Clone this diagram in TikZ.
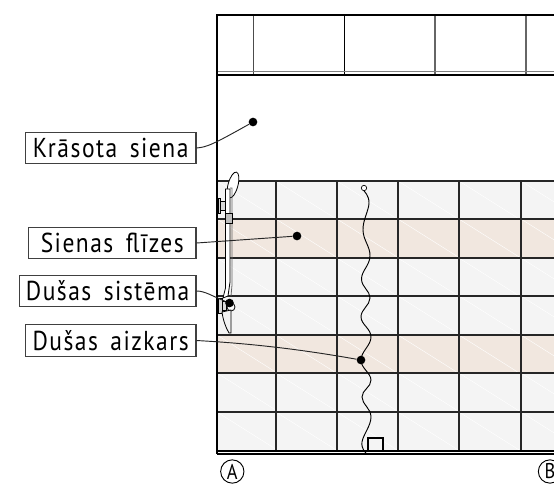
\documentclass[tikz,border=0pt]{standalone}
\usepackage{fontspec}
\setmainfont[LetterSpace=5.5,FakeStretch=0.86,WordSpace=1.6]{PT Sans}
\usetikzlibrary{positioning}
\definecolor{tilegray}{HTML}{F4F4F4}
\definecolor{tilebeige}{HTML}{F1E7DF}
\tikzset{
  notebox/.style={draw=black!75, line width=0.8pt, fill=white, inner sep=0pt, minimum height=23.5pt, font=\fontsize{20.5}{22}\selectfont},
  pin dot/.style={circle, fill=black, inner sep=0pt, minimum size=6.5pt},
  leader/.style={draw=black!85, line width=0.7pt},
  axis mark/.style={circle, draw=black, line width=0.7pt, inner sep=0pt, minimum size=17.5pt, font=\fontsize{16}{16}\selectfont},
  tilegrid/.style={draw=black!85, line width=1.2pt},
  tilehatch/.style={draw=white, line width=0.3pt},
  fixture/.style={draw=black, line width=0.6pt, fill=white},
}
\begin{document}
\begin{tikzpicture}[x=0.75pt, y=-0.75pt]
\useasboundingbox (0,0) rectangle (554,483);
% tiles
\fill[tilegray] (217,181) rectangle (554,451);
\fill[tilebeige] (217,219) rectangle (554,258);
\fill[tilebeige] (217,335) rectangle (554,373);
\begin{scope}
\clip (217,181) rectangle (554,451);
\foreach \col in {217,276,337,398,459,521} {
  \foreach \row in {181,219,258,296,335,373,412} {
    \draw[tilehatch] (\col,\row) -- ++(61,38.5);
  }
}
\end{scope}
\foreach \col in {276,337,398,459,521} \draw[tilegrid] (\col,181) -- (\col,451);
\foreach \row in {181,219,258,296,335,373,412} \draw[tilegrid] (217,\row) -- (554,\row);
% ceiling
\draw[black!70, line width=0.8pt] (253.3,15) -- (253.3,75);
\draw[line width=0.8pt] (344.3,15) -- (344.3,75);
\foreach \col in {435,526} \draw[black!60, line width=1.2pt] (\col,15) -- (\col,75);
\draw[black!50, line width=0.9pt] (217,71.7) -- (554,71.7);
\draw[line width=0.8pt] (217,75) -- (554,75);
% walls and floor
\draw[line width=1pt] (217,451) -- (554,451);
\draw[line width=1.2pt] (217,454) -- (554,454);
\draw[line width=2.1pt] (554,15) -- (217,15) -- (217,454);
% drain
\draw[line width=1.2pt] (368,452) -- (368,438) -- (383,438) -- (383,452);
% curtain
\node[circle, draw=black, fill=white, line width=0.5pt, inner sep=0pt, minimum size=4pt] (ringtop) at (364,188) {};
\draw[line width=0.7pt] plot[smooth, tension=0.7] coordinates {(ringtop.south) (369,203) (363,230) (370,256) (361.5,279) (370,298) (361,317) (371,337) (361,360) (371,380) (362,397) (371,417) (362,442) (366,453)};
% shower
\draw[fixture, fill=black!15] (218,198) rectangle (220,213);
\draw[fixture, fill=black!15] (220,201) rectangle (226,210);
\draw[fixture, fill=black!15] (218,298) rectangle (222,313);
\draw[fixture, fill=black!15] (222,301) rectangle (226,310);
\draw[fixture, rotate around={-15:(233,185)}] (233,185) ellipse (3.7pt and 10pt);
\draw[black!60, line width=0.6pt] (230,188) -- (232,188) -- (232,285) -- (231,296);
\draw[fixture] (225.5,189) -- (230,189) -- (230,282) -- (228,296) -- (223,298) -- (225.5,288) -- cycle;
\draw[fixture, fill=black!25] (225.5,213) rectangle (232,223);
\draw[fixture] (231,307) circle (3pt);
\draw[fixture, fill=black!5] (222,312) .. controls (223,320) and (226,328) .. (229,333) -- (231,333) -- (231,310) -- cycle;
% labels
\node[notebox, anchor=east, minimum width=128pt] (krasota) at (196.5,148) {Krāsota siena};
\node[notebox, anchor=east, minimum width=125.5pt] (flizes) at (196.5,243) {Sienas flīzes};
\node[notebox, anchor=east, minimum width=132.5pt] (sistema) at (196.5,291) {Dušas sistēma};
\node[notebox, anchor=east, minimum width=128pt] (aizkars) at (196.5,340.5) {Dušas aizkars};
\node[pin dot] (ptkrasota) at (253,122) {};
\node[pin dot] (ptflizes) at (297,236) {};
\node[pin dot] (ptsistema) at (229.5,303) {};
\node[pin dot] (ptaizkars) at (361,360) {};
\draw[leader] (krasota.east) .. controls (207,147) and (212,145) .. (ptkrasota);
\draw[leader] (flizes.east) -- (ptflizes);
\draw[leader] (sistema.east) .. controls (205,291) and (212,296) .. (ptsistema);
\draw[leader] (aizkars.east) .. controls (260,344) and (310,351) .. (ptaizkars);
% axes
\node[axis mark] (axisA) at (232.3,471.5) {A};
\node[axis mark] (axisB) at (550,471.5) {B};
\end{tikzpicture}
\end{document}
